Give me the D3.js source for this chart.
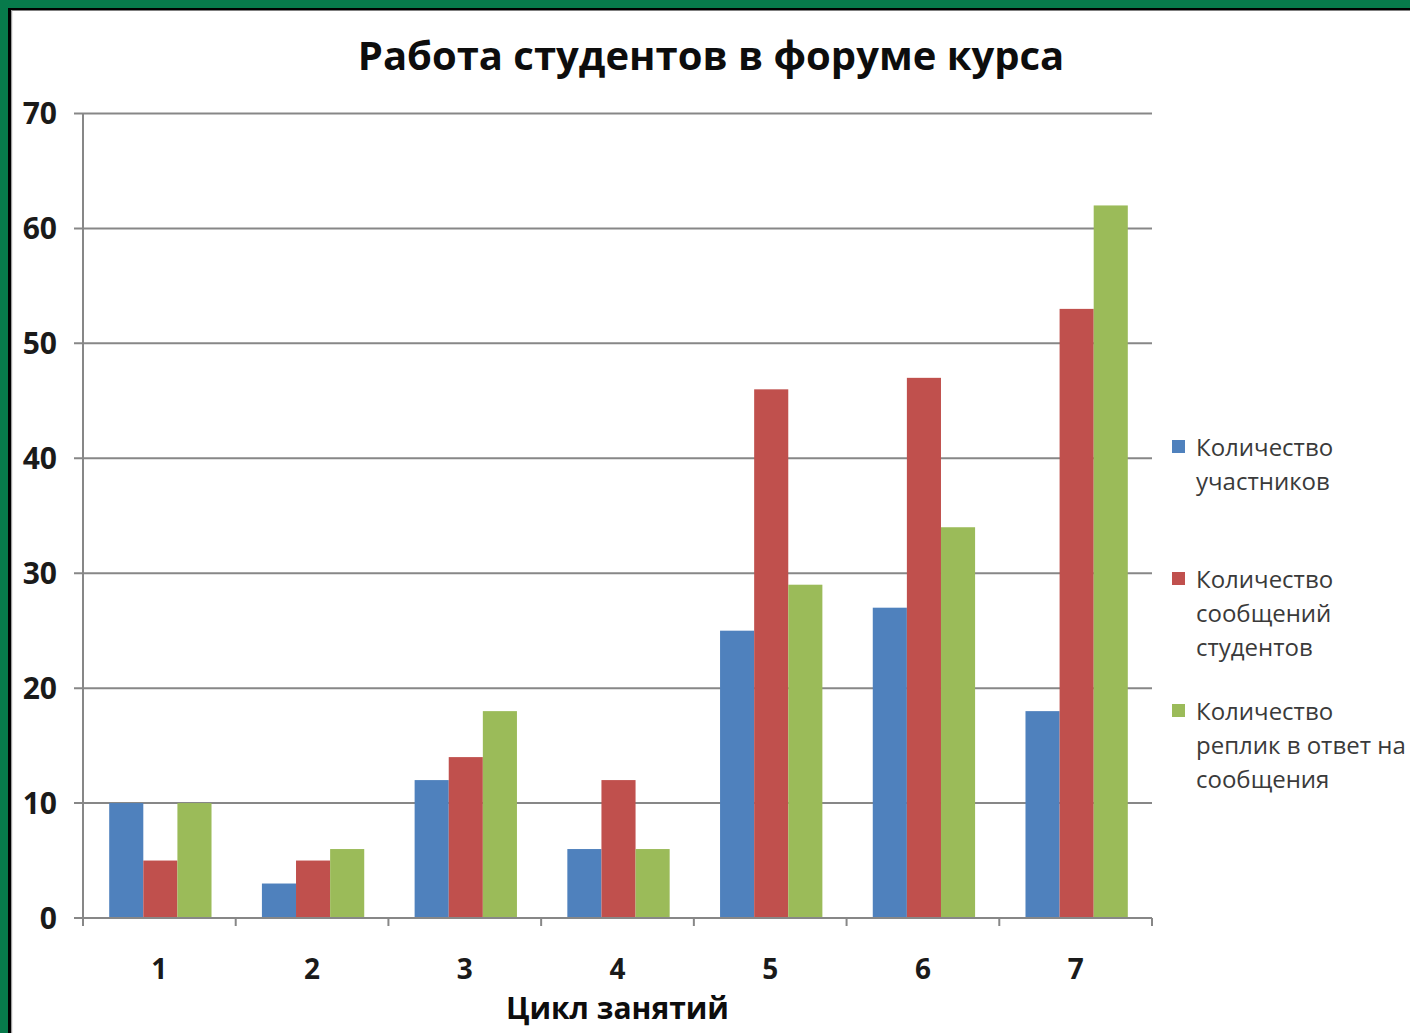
<!DOCTYPE html>
<html>
<head>
<meta charset="utf-8">
<script src="https://cdn.jsdelivr.net/npm/d3@7"></script>
<style>
  html, body { margin: 0; padding: 0; background: #ffffff; }
  svg { display: block; }
</style>
</head>
<body>
<svg id="chart" width="1410" height="1033"></svg>
<script>
// Forum activity by lesson cycle
const categories = ["1", "2", "3", "4", "5", "6", "7"];
const participants = [10, 3, 12, 6, 25, 27, 18];
const studentPosts = [5, 5, 14, 12, 46, 47, 53];
const replies = [10, 6, 18, 6, 29, 34, 62];
const seriesNames = [
  ["Количество", "участников"],
  ["Количество", "сообщений", "студентов"],
  ["Количество", "реплик в ответ на", "сообщения"]
];
const seriesColors = ["#4f81bd", "#c0504d", "#9bbb59"];
const yTicks = [0, 10, 20, 30, 40, 50, 60, 70];
const titleText = "Работа студентов в форуме курса";
const xTitleText = "Цикл занятий";

const series = [participants, studentPosts, replies];

const svg = d3.select("#chart");
const W = 1410, H = 1033;

// frame: green band with a thin dark edge
svg.append("rect").attr("x", 0).attr("y", 0).attr("width", W).attr("height", H).attr("fill", "#ffffff");
svg.append("rect").attr("x", 0).attr("y", 0).attr("width", W).attr("height", 8).attr("fill", "#077a4b");
svg.append("rect").attr("x", 0).attr("y", 0).attr("width", 8).attr("height", H).attr("fill", "#077a4b");
svg.append("rect").attr("x", 8).attr("y", 8).attr("width", W - 8).attr("height", 2.5).attr("fill", "#000000");
svg.append("rect").attr("x", 8).attr("y", 8).attr("width", 3).attr("height", H - 8).attr("fill", "#000000");
svg.append("rect").attr("x", 11).attr("y", 10).attr("width", 1.2).attr("height", H - 10).attr("fill", "#a0a0a0");

const plot = { left: 83, right: 1152, top: 113.5, bottom: 918 };

const x = d3.scaleBand()
  .domain(categories)
  .range([plot.left, plot.right])
  .paddingInner(0.33)
  .paddingOuter(0.165);

const xs = d3.scaleBand()
  .domain(d3.range(series.length))
  .range([0, x.bandwidth()]);

const y = d3.scaleLinear().domain([0, 70]).range([plot.bottom, plot.top]);

const gridColor = "#878787";

// horizontal gridlines with small ticks left of the axis
svg.append("g")
  .selectAll("line")
  .data(yTicks)
  .join("line")
  .attr("x1", plot.left - 9)
  .attr("x2", plot.right)
  .attr("y1", d => y(d))
  .attr("y2", d => y(d))
  .attr("stroke", gridColor)
  .attr("stroke-width", 2);

// bars
const groups = svg.append("g")
  .selectAll("g")
  .data(categories)
  .join("g")
  .attr("transform", d => `translate(${x(d) + 1},0)`);

groups.selectAll("rect")
  .data((c, i) => series.map((s, k) => ({ k, v: s[i] })))
  .join("rect")
  .attr("x", d => xs(d.k))
  .attr("width", xs.bandwidth())
  .attr("y", d => y(d.v))
  .attr("height", d => y(0) - y(d.v))
  .attr("fill", d => seriesColors[d.k]);

// value axis line
svg.append("line")
  .attr("x1", plot.left).attr("x2", plot.left)
  .attr("y1", plot.top).attr("y2", plot.bottom + 1)
  .attr("stroke", gridColor).attr("stroke-width", 2);

// category axis line and boundary ticks
svg.append("line")
  .attr("x1", plot.left).attr("x2", plot.right)
  .attr("y1", plot.bottom).attr("y2", plot.bottom)
  .attr("stroke", gridColor).attr("stroke-width", 2);

svg.append("g")
  .selectAll("line")
  .data(d3.range(categories.length + 1))
  .join("line")
  .attr("x1", i => plot.left + i * x.step())
  .attr("x2", i => plot.left + i * x.step())
  .attr("y1", plot.bottom)
  .attr("y2", plot.bottom + 8)
  .attr("stroke", gridColor)
  .attr("stroke-width", 2);

const boldFont = "'Open Sans', 'DejaVu Sans', sans-serif";

// y tick labels
svg.append("g")
  .selectAll("text")
  .data(yTicks)
  .join("text")
  .attr("x", 57)
  .attr("y", d => y(d))
  .attr("dy", "0.36em")
  .attr("text-anchor", "end")
  .attr("font-family", boldFont)
  .attr("font-weight", 700)
  .attr("font-size", 30)
  .attr("fill", "#1a1a1a")
  .text(d => d);

// x tick labels
svg.append("g")
  .selectAll("text")
  .data(categories)
  .join("text")
  .attr("x", d => x(d) + x.bandwidth() / 2)
  .attr("y", 969)
  .attr("dy", "0.36em")
  .attr("text-anchor", "middle")
  .attr("font-family", boldFont)
  .attr("font-weight", 700)
  .attr("font-size", 28)
  .attr("fill", "#1a1a1a")
  .text(d => d);

// title
svg.append("text")
  .attr("x", 711)
  .attr("y", 70)
  .attr("text-anchor", "middle")
  .attr("font-family", boldFont)
  .attr("font-weight", 700)
  .attr("font-size", 40)
  .attr("fill", "#0d0d0d")
  .text(titleText);

// category axis title
svg.append("text")
  .attr("x", (plot.left + plot.right) / 2)
  .attr("y", 1019)
  .attr("text-anchor", "middle")
  .attr("font-family", boldFont)
  .attr("font-weight", 700)
  .attr("font-size", 30)
  .attr("fill", "#0d0d0d")
  .text(xTitleText);

// legend
const legendTop = [447, 579, 711];
const legend = svg.append("g");
seriesNames.forEach((lines, k) => {
  legend.append("rect")
    .attr("x", 1172)
    .attr("y", legendTop[k] - 7)
    .attr("width", 13)
    .attr("height", 13)
    .attr("fill", seriesColors[k]);
  legend.append("g")
    .selectAll("text")
    .data(lines)
    .join("text")
    .attr("x", 1196)
    .attr("y", (d, j) => legendTop[k] + j * 34)
    .attr("dy", "0.36em")
    .attr("font-family", "'Open Sans', sans-serif")
    .attr("font-size", 24)
    .attr("fill", "#3a3a3a")
    .text(d => d);
});
</script>
</body>
</html>
